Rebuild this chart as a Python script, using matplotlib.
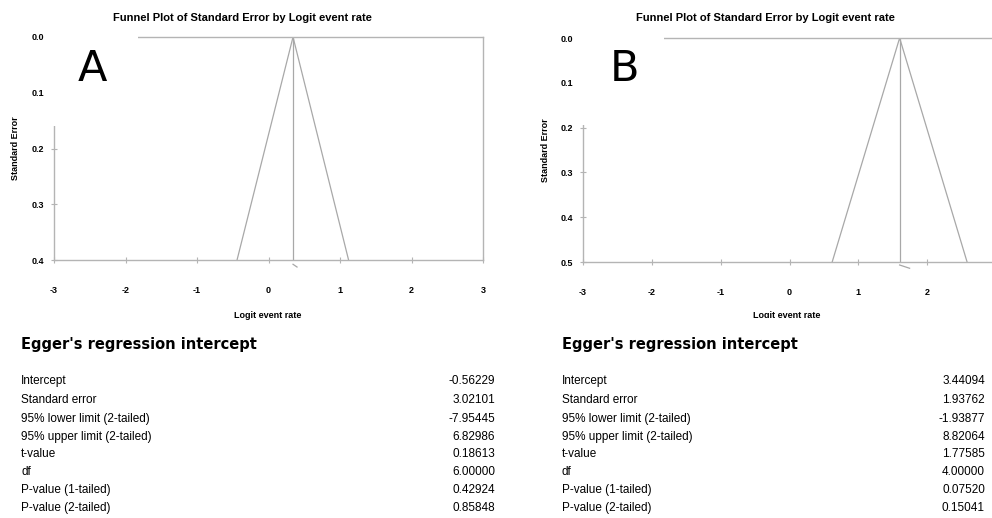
import matplotlib
matplotlib.use("Agg")
import matplotlib.pyplot as plt
from matplotlib.patches import Rectangle

plt.rcParams['font.family'] = ['Liberation Sans Narrow', 'Liberation Sans', 'DejaVu Sans']

# Funnel plot data
panel_letters = ["A", "B"]
apex = [0.343, 1.60]              # combined logit event rate
se_max = [0.4, 0.5]
funnel_left = [-0.44, 0.62]       # lower-left end of funnel
funnel_right = [1.12, 2.58]       # lower-right end of funnel
diamond_x = [[0.343, 0.399], [1.60, 1.745]]
diamond_y = [[0.4077, 0.4126], [0.5067, 0.514]]
x_ticks = [-3, -2, -1, 0, 1, 2, 3]
x_labels = [["-3", "-2", "-1", "0", "1", "2", "3"],
            ["-3", "-2", "-1", "0", "1", "2", ""]]   # "3" falls outside the crop in B
y_ticks = [[0.0, 0.1, 0.2, 0.3, 0.4], [0.0, 0.1, 0.2, 0.3, 0.4, 0.5]]

# Egger's regression tables
row_labels = ["Intercept", "Standard error", "95% lower limit (2-tailed)",
              "95% upper limit (2-tailed)", "t-value", "df",
              "P-value (1-tailed)", "P-value (2-tailed)"]
values_a = ["-0.56229", "3.02101", "-7.95445", "6.82986", "0.18613",
            "6.00000", "0.42924", "0.85848"]
values_b = ["3.44094", "1.93762", "-1.93877", "8.82064", "1.77585",
            "4.00000", "0.07520", "0.15041"]

W, H = 992, 518
fig = plt.figure(figsize=(W / 100, H / 100), dpi=100)

grey = "#b4b4b4"
line_grey = "#a8a8a8"

# axes boxes in pixels: (left, top, right, bottom)
boxes = [(54, 37, 483, 260), (583, 38, 996, 262)]
titles_x = [242, 765]
ylabel_x = [15, 545]
xlabel_x = [268, 787]
letter_pos = [(92, 69), (624, 69)]
mask_boxes = [(51, 28, 138, 126), (580, 28, 664, 125)]

for i in range(2):
    l, t, r, b = boxes[i]
    ax = fig.add_axes([l / W, 1 - b / H, (r - l) / W, (b - t) / H])
    ax.set_xlim(-3, 3)
    ax.set_ylim(se_max[i], 0)
    for s in ax.spines.values():
        s.set_color(grey)
        s.set_linewidth(1.0)
    ax.set_xticks(x_ticks)
    ax.set_yticks(y_ticks[i])
    ax.set_xticklabels(x_labels[i])
    ax.set_yticklabels([f"{v:.1f}" for v in y_ticks[i]])
    ax.tick_params(direction="inout", length=4, width=0.8, color=grey,
                   labelsize=6.5, pad=17)
    ax.tick_params(axis="y", pad=5)
    for lab in ax.get_xticklabels() + ax.get_yticklabels():
        lab.set_fontweight("bold")

    ax.plot([funnel_left[i], apex[i], funnel_right[i]],
            [se_max[i], 0, se_max[i]], color=line_grey, lw=0.9)
    ax.plot([apex[i], apex[i]], [0, se_max[i]], color=line_grey, lw=0.9)
    ax.plot(diamond_x[i], diamond_y[i], color=line_grey, lw=0.9, clip_on=False)

    fig.text(titles_x[i] / W, 1 - 18 / H,
             "Funnel Plot of Standard Error by Logit event rate",
             ha="center", va="center", fontsize=8, fontweight="bold")
    fig.text(ylabel_x[i] / W, 1 - ((t + b) / 2) / H, "Standard Error",
             rotation=90, ha="center", va="center", fontsize=6.5,
             fontweight="bold")
    fig.text(xlabel_x[i] / W, 1 - 316 / H, "Logit event rate",
             ha="center", va="center", fontsize=6.5, fontweight="bold")

    # white patch pasted over the corner where the panel letter sits
    mx0, my0, mx1, my1 = mask_boxes[i]
    fig.patches.append(Rectangle((mx0 / W, 1 - my1 / H), (mx1 - mx0) / W,
                                 (my1 - my0) / H, transform=fig.transFigure,
                                 facecolor="white", edgecolor="none", zorder=5))
    fig.text(letter_pos[i][0] / W, 1 - letter_pos[i][1] / H, panel_letters[i],
             ha="center", va="center", fontsize=31, family="DejaVu Sans",
             zorder=6)

# right panel's x label is cut off by the crop
fig.patches.append(Rectangle((530 / W, 0), 462 / W, 1 - 318 / H,
                             transform=fig.transFigure, facecolor="white",
                             edgecolor="none", zorder=5))

# Egger's tables
table_x = [21, 562]
value_x = [495, 985]
row_y = [381, 400, 419, 437, 454, 472, 490, 508]
values = [values_a, values_b]
for i in range(2):
    fig.text(table_x[i] / W, 1 - 344 / H, "Egger's regression intercept",
             ha="left", va="center", fontsize=10.5, fontweight="bold",
             family="DejaVu Sans", zorder=7)
    for lab, val, y in zip(row_labels, values[i], row_y):
        fig.text(table_x[i] / W, 1 - y / H, lab, ha="left", va="center",
                 fontsize=8.5, zorder=7)
        fig.text(value_x[i] / W, 1 - y / H, val, ha="right", va="center",
                 fontsize=8.5, zorder=7)

fig.savefig("out.png", dpi=100)
